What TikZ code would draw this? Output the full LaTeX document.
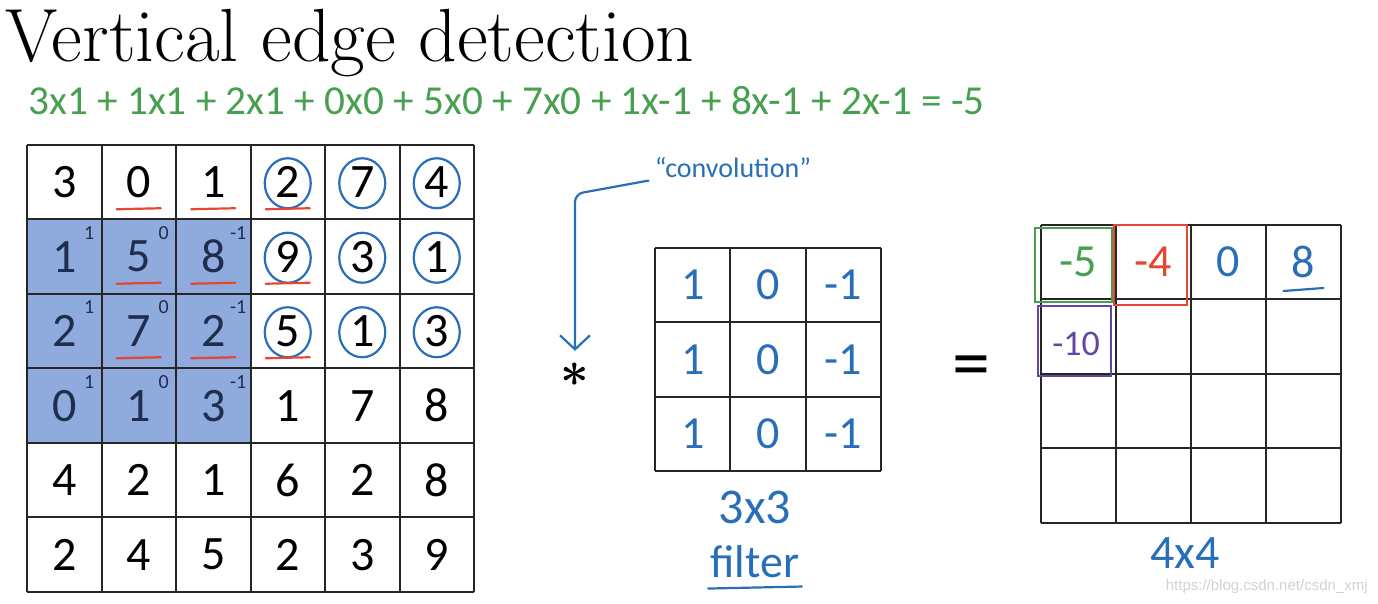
\documentclass[tikz,border=0pt]{standalone}
\usepackage{fontspec}
\usetikzlibrary{arrows.meta}
\newfontfamily\numfont{Carlito}
\newfontfamily\wmfont{Liberation Sans}
\definecolor{winblue}{RGB}{143,170,220}
\definecolor{wintext}{RGB}{31,45,78}
\definecolor{penblue}{RGB}{40,110,185}
\definecolor{pengreen}{RGB}{70,160,80}
\definecolor{penred}{RGB}{230,70,50}
\definecolor{penpurple}{RGB}{100,70,160}
\begin{document}
\begin{tikzpicture}[x=0.5pt,y=-0.5pt,
  num/.style={font=\numfont\fontsize{24}{28}\selectfont,inner sep=0pt},
  wt/.style={font=\numfont\fontsize{10}{12}\selectfont,inner sep=0pt,text=wintext},
  hand/.style={font=\numfont\fontsize{23}{28}\selectfont,inner sep=0pt,text=penblue},
  pen/.style={penblue,line width=1.1pt,line cap=round},
  cellline/.style={line width=1pt,black!85}]
\useasboundingbox (0,0) rectangle (1378,604);
% title and the sum for the first output
\node[anchor=base west,inner sep=0pt,font=\fontsize{37.7}{42}\selectfont] (title) at (5,62) {Vertical edge detection};
\node[anchor=west,inner sep=0pt,font=\numfont\fontsize{20.6}{24}\selectfont,text=pengreen] (sum) at (28,101) {3x1 + 1x1 + 2x1 + 0x0 + 5x0 + 7x0 + 1x-1 + 8x-1 + 2x-1 = -5};
% 6x6 input
\fill[winblue] (27,219.5) rectangle (250.5,443);
\foreach \i in {0,...,6} {
  \draw[cellline] ({27+74.5*\i},145) -- ({27+74.5*\i},592);
  \draw[cellline] (27,{145+74.5*\i}) -- (474,{145+74.5*\i});
}
\foreach \row [count=\ri from 0] in {{3,0,1,2,7,4},{1,5,8,9,3,1},{2,7,2,5,1,3},{0,1,3,1,7,8},{4,2,1,6,2,8},{2,4,5,2,3,9}}
  \foreach \v [count=\ci from 0] in \row {
    \pgfmathtruncatemacro\inwin{(\ri>0)*(\ri<4)*(\ci<3)}
    \ifnum\inwin=1 \def\tc{wintext}\else\def\tc{black}\fi
    \node[num,text=\tc] (m-\ri-\ci) at ({27+74.5*(\ci+0.5)},{145+74.5*(\ri+0.5)}) {\v};
  }
\foreach \ri in {1,2,3}
  \foreach \ci/\w in {0/1,1/0,2/-1}
    \node[wt] (w-\ri-\ci) at ([shift={(25,-24)}]m-\ri-\ci.center) {\w};
% pen marks on the input
\foreach \ri in {0,1,2}
  \foreach \ci in {3,4,5}
    \draw[pen] ([shift={(0,1)}]m-\ri-\ci.center) ellipse (23 and 25);
\foreach \ri/\ci in {0/1,0/2,0/3,1/1,1/2,1/3,2/1,2/2,2/3}
  \draw[pen,penred] ([shift={(-22,27)}]m-\ri-\ci.center) -- ([shift={(22,26)}]m-\ri-\ci.center);
% convolution sign
\node[hand,font=\numfont\fontsize{14}{16}\selectfont] (conv) at (733,168) {“convolution”};
\node[font=\fontsize{32}{32}\selectfont\boldmath,inner sep=0pt] (star) at (575,375) {$\ast$};
\coordinate (bend) at (575,194);
\draw[pen,rounded corners=4pt,-{Straight Barb[length=7pt,width=15pt]},shorten >=6pt] ([shift={(-6,2)}]conv.south west) -- (bend) -- (star.north);
% 3x3 filter
\foreach \i in {0,...,3} {
  \draw[cellline] ({655+75.33*\i},248) -- ({655+75.33*\i},471);
  \draw[cellline] (655,{248+74.33*\i}) -- (881,{248+74.33*\i});
}
\foreach \ri in {0,1,2}
  \foreach \v [count=\ci from 0] in {1,0,-1}
    \node[hand] (f-\ri-\ci) at ({655+75.33*(\ci+0.5)},{248+74.33*(\ri+0.5)}) {\v};
\node[hand,font=\numfont\fontsize{25}{30}\selectfont] (fsize) at (755,507) {3x3};
\node[hand] (fname) at (755,562) {filter};
\draw[pen] ([shift={(-2,10)}]fname.south west) -- ([shift={(2,8)}]fname.south east);
\node[font=\numfont\fontsize{38}{40}\selectfont,inner sep=0pt] (eq) at (971,372) {=};
% 4x4 output
\foreach \i in {0,...,4} {
  \draw[cellline] ({1041+75*\i},225) -- ({1041+75*\i},523);
  \draw[cellline] (1041,{225+74.5*\i}) -- (1341,{225+74.5*\i});
}
\node[hand,text=pengreen] (o-0-0) at (1078.5,262) {-5};
\node[hand,text=penred] (o-0-1) at (1153.5,262) {-4};
\node[hand] (o-0-2) at (1228.5,262) {0};
\node[hand] (o-0-3) at (1303.5,262) {8};
\node[hand,text=penpurple,font=\numfont\fontsize{18}{20}\selectfont] (o-1-0) at (1076,344) {-10};
\draw[pen,pengreen] (1035,228) rectangle (1112,302);
\draw[pen,penred] (1114,225) rectangle (1187,305);
\draw[pen,penpurple] (1038,306) rectangle (1111,376);
\draw[pen] ([shift={(-20,29)}]o-0-3.center) -- ([shift={(20,26)}]o-0-3.center);
\node[hand,font=\numfont\fontsize{24}{28}\selectfont] (osize) at (1185,553) {4x4};
\node[font=\wmfont\fontsize{7.5}{9}\selectfont,text=black!18,anchor=east,inner sep=0pt] (wm) at (1368,587) {https://blog.csdn.net/csdn\_xmj};
\end{tikzpicture}
\end{document}
